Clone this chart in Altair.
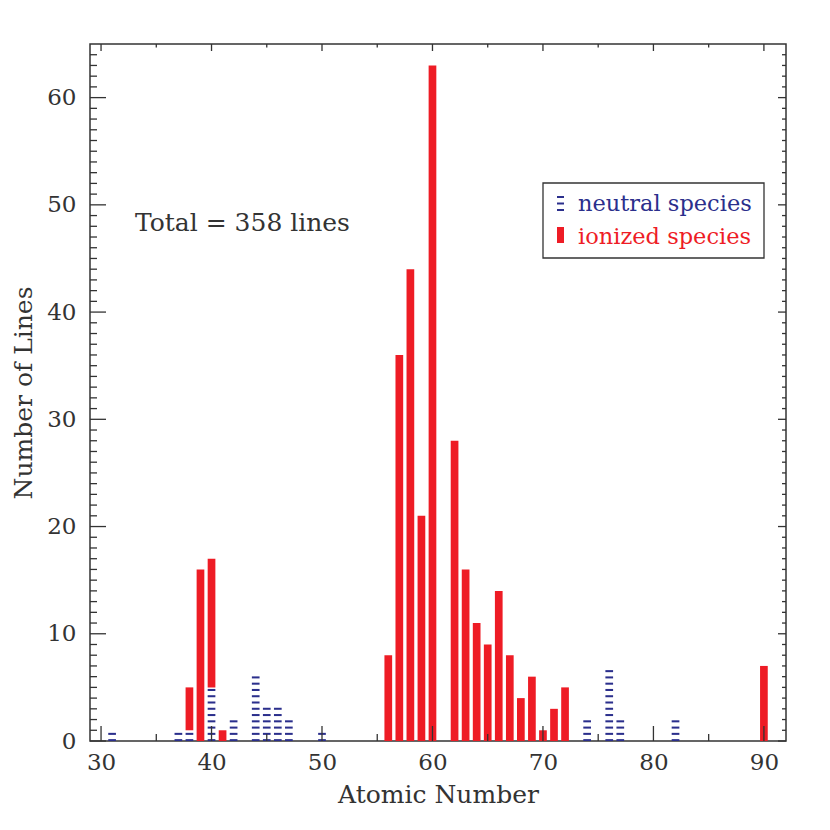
import altair as alt
import pandas as pd

# ---------------- data ----------------
neutral_z = [31, 37, 38, 40, 42, 44, 45, 46, 47, 50, 74, 76, 77, 82]
neutral_n = [1, 1, 1, 5, 2, 6, 3, 3, 2, 1, 2, 7, 2, 2]
ionized_z = [38, 39, 40, 41, 56, 57, 58, 59, 60, 62, 63, 64, 65, 66, 67, 68, 69, 70, 71, 72, 90]
ionized_n = [4, 16, 12, 1, 8, 36, 44, 21, 63, 28, 16, 11, 9, 14, 8, 4, 6, 1, 3, 5, 7]

x_major = [30, 40, 50, 60, 70, 80, 90]
x_minor = [35, 45, 55, 65, 75, 85]
y_major = [0, 10, 20, 30, 40, 50, 60]
y_minor = [v for v in range(1, 65) if v % 10]

legend_labels = ["neutral species", "ionized species"]
annotation = "Total = 358 lines"

# ---------------- styling ----------------
W, H = 696, 697
RED = "#ee1c25"
BLUE = "#2b2f8c"
INK = "#333333"
FONT = "DejaVu Serif"
BAR_PX = 7.7
HATCH_STEP = 0.585
HATCH_START = 0.08
HATCH_THICK = 0.19

xs = alt.Scale(domain=[29, 92], nice=False, zero=False, padding=0)
ys = alt.Scale(domain=[0, 65], nice=False, zero=False, padding=0)

x_axis = alt.Axis(values=x_major, ticks=False, domain=False, grid=False,
                  labelFont=FONT, labelFontSize=23, labelColor=INK,
                  labelPadding=10, format="d",
                  title="Atomic Number", titleFont=FONT, titleFontSize=25,
                  titleFontWeight="normal", titleColor=INK, titlePadding=8)
y_axis = alt.Axis(values=y_major, ticks=False, domain=False, grid=False,
                  labelFont=FONT, labelFontSize=23, labelColor=INK,
                  labelPadding=14, format="d",
                  title="Number of Lines", titleFont=FONT, titleFontSize=25,
                  titleFontWeight="normal", titleColor=INK, titlePadding=10)

# neutral hatch lines (horizontal line fill of the neutral bars)
rows = []
for z, n in zip(neutral_z, neutral_n):
    k = 0
    while HATCH_START + k * HATCH_STEP <= n + 0.02:
        y0 = HATCH_START + k * HATCH_STEP - HATCH_THICK / 2
        rows.append({"z": z, "y0": max(y0, 0), "y1": y0 + HATCH_THICK})
        k += 1
hatch = pd.DataFrame(rows)

base = dict(zip(neutral_z, neutral_n))
ion = pd.DataFrame({
    "z": ionized_z,
    "lo": [base.get(z, 0) for z in ionized_z],
    "hi": [base.get(z, 0) + n for z, n in zip(ionized_z, ionized_n)],
})

ion_layer = alt.Chart(ion).mark_bar(size=BAR_PX, color=RED, opacity=1).encode(
    x=alt.X("z:Q", scale=xs, axis=x_axis),
    y=alt.Y("lo:Q", scale=ys, axis=y_axis),
    y2="hi:Q",
)

hatch_layer = alt.Chart(hatch).mark_bar(size=BAR_PX, color=BLUE, opacity=1).encode(
    x=alt.X("z:Q", scale=xs, axis=x_axis),
    y=alt.Y("y0:Q", scale=ys, axis=y_axis),
    y2="y1:Q",
)

def vticks(vals, y0, y1):
    return alt.Chart(pd.DataFrame({"z": vals})).mark_rule(color=INK, strokeWidth=1.3).encode(
        x=alt.X("z:Q", scale=xs, axis=x_axis), y=alt.value(y0), y2=alt.value(y1))

def hticks(vals, x0, x1):
    return alt.Chart(pd.DataFrame({"lo": vals})).mark_rule(color=INK, strokeWidth=1.3).encode(
        y=alt.Y("lo:Q", scale=ys, axis=y_axis), x=alt.value(x0), x2=alt.value(x1))

ticks = [
    vticks(x_major, H, H - 15), vticks(x_minor, H, H - 7),
    vticks(x_major, 0, 7), vticks(x_minor, 0, 3.5),
    hticks(y_major, 0, 16), hticks(y_minor, 0, 7),
    hticks(y_major, W, W - 8), hticks(y_minor, W, W - 4),
]

one = pd.DataFrame({"a": [0]})
legend_box = alt.Chart(one).mark_rect(fill="white", stroke=INK, strokeWidth=1.3).encode(
    x=alt.value(453), x2=alt.value(674), y=alt.value(139), y2=alt.value(214))
leg_neutral = [
    alt.Chart(one).mark_rect(color=BLUE).encode(
        x=alt.value(467), x2=alt.value(474), y=alt.value(yy), y2=alt.value(yy + 2))
    for yy in (152, 158.5, 165)
]
leg_ion = alt.Chart(one).mark_rect(color=RED).encode(
    x=alt.value(467), x2=alt.value(474), y=alt.value(183), y2=alt.value(199))
leg_t1 = alt.Chart(pd.DataFrame({"t": [legend_labels[0]]})).mark_text(
    font=FONT, fontSize=22.5, color=BLUE, align="left", baseline="middle").encode(
    text="t:N", x=alt.value(488), y=alt.value(160))
leg_t2 = alt.Chart(pd.DataFrame({"t": [legend_labels[1]]})).mark_text(
    font=FONT, fontSize=22.5, color=RED, align="left", baseline="middle").encode(
    text="t:N", x=alt.value(488), y=alt.value(193))
total_txt = alt.Chart(pd.DataFrame({"t": [annotation]})).mark_text(
    font=FONT, fontSize=25, color=INK, align="left", baseline="middle").encode(
    text="t:N", x=alt.value(45), y=alt.value(179))

chart = alt.layer(
    ion_layer, hatch_layer, *ticks, legend_box, *leg_neutral, leg_ion, leg_t1, leg_t2, total_txt
).properties(
    width=W, height=H,
    autosize=alt.AutoSizeParams(type="none"),
    padding={"left": 82, "top": 36, "right": 20, "bottom": 80},
    background="white",
).configure_view(stroke=INK, strokeWidth=1.5)

chart.save("out.html", embed_options={"renderer": "svg", "actions": False})
